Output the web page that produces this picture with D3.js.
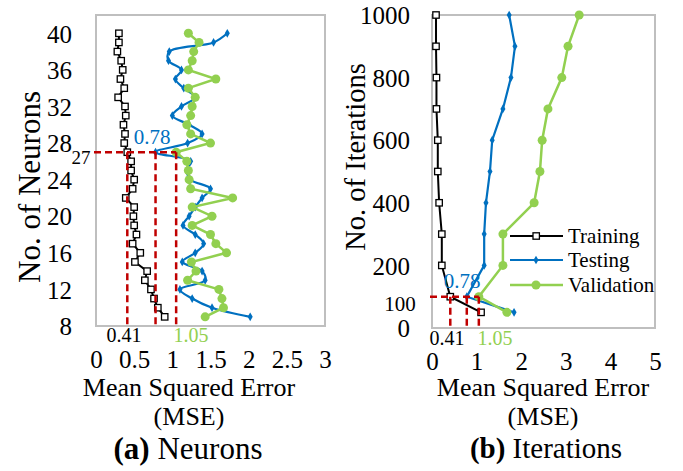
<!DOCTYPE html>
<html><head><meta charset="utf-8">
<script src="https://cdn.jsdelivr.net/npm/d3@7"></script>
<style>
body{margin:0;background:#fff;}
svg text{font-family:"Liberation Serif","Times New Roman",Tinos,Times,"Nimbus Roman","DejaVu Serif",serif !important;fill:#000;}
</style></head>
<body>
<svg id="chart" width="683" height="471"></svg>
<script>
// ---------- DATA ----------
const neurons = [9,10,11,12,13,14,15,16,17,18,19,20,21,22,23,24,25,26,27,28,29,30,31,32,33,34,35,36,37,38,39,40];
const neuronTraining = [0.90,0.81,0.76,0.72,0.64,0.67,0.51,0.58,0.48,0.53,0.50,0.49,0.50,0.39,0.48,0.50,0.46,0.46,0.41,0.37,0.38,0.36,0.39,0.38,0.29,0.37,0.32,0.35,0.33,0.28,0.30,0.30];
const neuronTesting = [2.02,1.52,1.26,1.10,1.43,1.39,1.13,1.30,1.41,1.30,1.14,1.22,1.30,1.39,1.50,1.24,1.19,1.24,0.78,1.20,1.39,1.22,1.00,1.12,1.30,1.15,1.04,1.12,0.95,0.96,1.54,1.72];
const neuronValidation = [1.43,1.67,1.65,1.61,1.20,1.31,1.25,1.71,1.57,1.50,1.26,1.52,1.26,1.79,1.24,1.22,1.21,1.19,1.05,1.50,1.24,1.19,1.24,1.26,1.30,1.21,1.57,1.21,1.26,1.28,1.35,1.21];

const iterations = [50,100,200,300,400,500,600,700,800,900,1000];
const iterTraining = [1.10,0.41,0.22,0.22,0.16,0.13,0.13,0.10,0.10,0.09,0.09];
const iterTesting = [1.84,0.78,1.17,1.17,1.21,1.30,1.35,1.59,1.77,1.86,1.73];
const iterValidation = [1.68,1.05,1.59,1.59,2.29,2.42,2.47,2.60,2.91,3.05,3.30];

const xTicksA = [0,0.5,1,1.5,2,2.5,3];
const yTicksA = [8,12,16,20,24,28,32,36,40];
const xTicksB = [0,1,2,3,4,5];
const yTicksB = [0,200,400,600,800,1000];
const seriesNames = ["Training","Testing","Validation"];
const optimum = {neurons:27, iterations:100, training:0.41, testing:0.78, validation:1.05};

// ---------- STYLE ----------
const FONT = '"Liberation Serif","Times New Roman",Tinos,Times,"Nimbus Roman","DejaVu Serif",serif';
const C = {train:"#000000", test:"#0070C0", val:"#92D050", red:"#C00000", box:"#BFBFBF"};
const svg = d3.select("#chart").attr("font-family",FONT);
svg.append("rect").attr("width",683).attr("height",471).attr("fill","#fff");

function drawPanel(cfg){
  const g = svg.append("g");
  const x = d3.scaleLinear().domain(cfg.xDomain).range(cfg.xRange);
  const y = d3.scaleLinear().domain(cfg.yDomain).range(cfg.yRange);

  // axes (labels only)
  const ax = g.append("g").attr("transform",`translate(0,${cfg.yRange[0]})`)
    .call(d3.axisBottom(x).tickValues(cfg.xTicks).tickSize(0).tickPadding(0).tickFormat(d3.format("")));
  ax.attr("font-family",FONT).attr("font-size",25);
  ax.select(".domain").remove();
  ax.selectAll("text").attr("y",cfg.xLabelY-cfg.yRange[0]).attr("dy","0.35em");
  const ay = g.append("g").attr("transform",`translate(${cfg.xRange[0]},0)`)
    .call(d3.axisLeft(y).tickValues(cfg.yTicks).tickSize(0).tickPadding(cfg.yPad).tickFormat(d3.format("d")));
  ay.attr("font-family",FONT).attr("font-size",25);
  ay.select(".domain").remove();
  ay.selectAll("text").attr("dy","0.35em");

  // box
  g.append("rect").attr("x",cfg.xRange[0]).attr("y",cfg.yRange[1])
    .attr("width",cfg.xRange[1]-cfg.xRange[0]).attr("height",cfg.yRange[0]-cfg.yRange[1])
    .attr("fill","none").attr("stroke",C.box).attr("stroke-width",2);

  const pts = (vals)=>vals.map((v,i)=>[x(v),y(cfg.ys[i])]);
  // training
  const tr = pts(cfg.train);
  g.append("path").attr("d",d3.line()(tr)).attr("fill","none").attr("stroke",C.train).attr("stroke-width",2);
  g.selectAll(null).data(tr).enter().append("rect")
    .attr("x",d=>d[0]-3.2).attr("y",d=>d[1]-3.2).attr("width",6.4).attr("height",6.4)
    .attr("fill","#fff").attr("stroke",C.train).attr("stroke-width",1.3);
  // testing
  const te = pts(cfg.test);
  g.append("path").attr("d",d3.line().curve(cfg.smooth?d3.curveCatmullRom.alpha(0.5):d3.curveLinear)(te))
    .attr("fill","none").attr("stroke",C.test).attr("stroke-width",2.2);
  g.selectAll(null).data(te).enter().append("path")
    .attr("transform",d=>`translate(${d[0]},${d[1]})`)
    .attr("d",d3.symbol(d3.symbolDiamond,22)()).attr("fill",C.test);
  // validation
  const va = pts(cfg.val);
  g.append("path").attr("d",d3.line()(va)).attr("fill","none").attr("stroke",C.val).attr("stroke-width",2.5);
  g.selectAll(null).data(va).enter().append("circle")
    .attr("cx",d=>d[0]).attr("cy",d=>d[1]).attr("r",4.5).attr("fill",C.val);

  // red dashed optimum lines
  const yo = y(cfg.yOpt);
  const dash = (x1,y1,x2,y2)=>g.append("line").attr("x1",x1).attr("y1",y1).attr("x2",x2).attr("y2",y2)
    .attr("stroke",C.red).attr("stroke-width",2.5).attr("stroke-dasharray","7,4");
  dash(cfg.xRange[0]-2,yo,x(optimum.validation),yo);
  [optimum.training,optimum.testing,optimum.validation].forEach(v=>dash(x(v),yo,x(v),cfg.yRange[0]));

  const txt = (p,s,t,fill)=>g.append("text").attr("x",p[0]).attr("y",p[1]).attr("text-anchor","middle")
    .attr("dy","0.35em").attr("font-size",s).style("fill",fill||"#000").text(t);
  txt(cfg.l041,20,"0.41");
  txt(cfg.l105,20,"1.05",C.val);
  txt(cfg.l078,21,"0.78",C.test);
  txt(cfg.lOpt,cfg.lOptSize,cfg.lOptText);

  // titles
  g.append("text").attr("transform",`translate(${cfg.yTitle[0]},${cfg.yTitle[1]}) rotate(-90)`)
    .attr("text-anchor","middle").attr("dy","0.35em").attr("font-size",cfg.yTitleSize).text(cfg.yTitleText);
  txt([cfg.cx,387],26,"Mean Squared Error");
  txt([cfg.cx,416],26,"(MSE)");
  const cap = g.append("text").attr("x",cfg.capX).attr("y",448).attr("text-anchor","middle").attr("dy","0.35em")
    .attr("font-size",cfg.capSize);
  cap.append("tspan").attr("font-weight","bold").text(cfg.capBold);
  cap.append("tspan").text(" "+cfg.capText);
  return {g,x,y};
}

drawPanel({
  xDomain:[0,3], xRange:[96,325], yDomain:[8,42], yRange:[326,15],
  xTicks:xTicksA, yTicks:yTicksA, xLabelY:359, yPad:24,
  ys:neurons, train:neuronTraining, test:neuronTesting, val:neuronValidation, smooth:true,
  yOpt:optimum.neurons, l041:[124,335], l105:[191,335], l078:[152,137],
  lOpt:[81,157], lOptText:"27", lOptSize:19,
  yTitle:[29,187], yTitleText:"No. of Neurons", yTitleSize:31,
  cx:189, capX:188, capSize:31, capBold:"(a)", capText:"Neurons"
});

drawPanel({
  xDomain:[0,5], xRange:[432,655], yDomain:[0,1000], yRange:[328,15],
  xTicks:xTicksB, yTicks:yTicksB, xLabelY:361, yPad:22,
  ys:iterations, train:iterTraining, test:iterTesting, val:iterValidation, smooth:false,
  yOpt:optimum.iterations, l041:[447,338], l105:[495,338], l078:[462,281],
  lOpt:[400,304], lOptText:"100", lOptSize:21,
  yTitle:[355,157], yTitleText:"No. of Iterations", yTitleSize:28.5,
  cx:543, capX:546, capSize:29, capBold:"(b)", capText:"Iterations"
});

// legend
const leg = svg.append("g");
const legRows = [
  {name:seriesNames[0], color:C.train, type:"sq", y:236},
  {name:seriesNames[1], color:C.test, type:"di", y:260},
  {name:seriesNames[2], color:C.val, type:"ci", y:285}
];
legRows.forEach(r=>{
  leg.append("line").attr("x1",510).attr("x2",563).attr("y1",r.y).attr("y2",r.y)
    .attr("stroke",r.color).attr("stroke-width",r.type==="ci"?2.5:2.2);
  if(r.type==="sq") leg.append("rect").attr("x",533).attr("y",r.y-3.2).attr("width",6.4).attr("height",6.4)
    .attr("fill","#fff").attr("stroke",r.color).attr("stroke-width",1.3);
  if(r.type==="di") leg.append("path").attr("transform",`translate(536,${r.y})`).attr("d",d3.symbol(d3.symbolDiamond,22)()).attr("fill",r.color);
  if(r.type==="ci") leg.append("circle").attr("cx",536).attr("cy",r.y).attr("r",4.5).attr("fill",r.color);
  leg.append("text").attr("x",568).attr("y",r.y).attr("dy","0.35em").attr("font-size",21).text(r.name);
});
</script>
</body></html>
